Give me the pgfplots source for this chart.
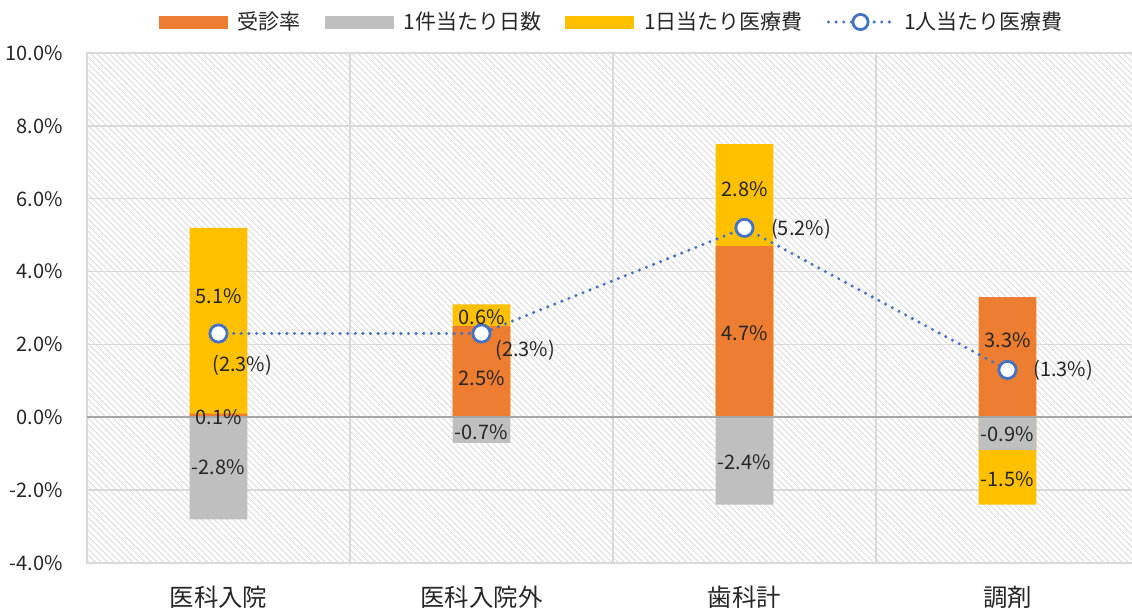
\documentclass[border=0pt]{standalone}
\usepackage{fontspec}
\setmainfont{Noto Sans CJK JP}
\usepackage{pgfplots}
\pgfplotsset{compat=1.18}
\usetikzlibrary{patterns.meta}
\definecolor{cOrange}{HTML}{ED7D31}
\definecolor{cGray}{HTML}{BFBFBF}
\definecolor{cYellow}{HTML}{FFC000}
\definecolor{cBlue}{HTML}{4472C4}
\definecolor{cGrid}{HTML}{D9D9D9}
\definecolor{cText}{HTML}{262626}
\begin{document}
\begin{tikzpicture}
\begin{axis}[
  at={(0,0)}, anchor=south west,
  scale only axis, width=526pt, height=255pt,
  xmin=-0.5, xmax=3.5, ymin=-4, ymax=10,
  /pgf/number format/assume math mode=true,
  axis line style={draw=cGrid, line width=0.75pt},
  xtick={0,1,2,3},
  xticklabels={医科入院,医科入院外,歯科計,調剤},
  minor xtick={0.5,1.5,2.5},
  xminorgrids=true,
  ytick={-4,-2,0,2,4,6,8,10},
  ymajorgrids=true,
  grid style={cGrid, line width=0.75pt},
  minor grid style={cGrid, line width=0.75pt},
  major tick length=0pt, minor tick length=0pt,
  tick style={draw=none},
  yticklabel={\pgfmathprintnumber[fixed,fixed zerofill,precision=1]{\tick}\%},
  yticklabel style={anchor=east, xshift=-8.5pt, font=\fontsize{10}{12}\selectfont, text=cText},
  xticklabel style={anchor=base, yshift=-22pt, font=\fontsize{12.2}{14}\selectfont, text=cText},
  axis background/.style={pattern={Lines[angle=-45,distance=2.2pt,line width=0.45pt]}, pattern color=black!14},
  legend style={at={(0.5,1)}, anchor=center, yshift=15.5pt, draw=none, fill=none,
    font=\fontsize{10.5}{12}\selectfont, text=cText, legend columns=4,
    /tikz/every odd column/.append style={column sep=3pt},
    /tikz/every even column/.append style={column sep=10pt}},
  legend cell align=left,
]
\addlegendimage{legend image code/.code={\fill[cOrange] (0pt,-3pt) rectangle (34pt,3pt);}}
\addlegendentry{受診率}
\addlegendimage{legend image code/.code={\fill[cGray] (0pt,-3pt) rectangle (34pt,3pt);}}
\addlegendentry{1件当たり日数}
\addlegendimage{legend image code/.code={\fill[cYellow] (0pt,-3pt) rectangle (34pt,3pt);}}
\addlegendentry{1日当たり医療費}
\addlegendimage{legend image code/.code={\draw[cBlue, line width=1.7pt, dash pattern=on 0pt off 3.8pt, line cap=round] (1pt,0pt) -- (33pt,0pt);
   \draw[cBlue, fill=white, line width=1.4pt] (17pt,0pt) circle (3.8pt);}}
\addlegendentry{1人当たり医療費}

% 1日当たり医療費 (drawn to the stack end), then 受診率 and 1件当たり日数 over it
\addplot[ybar, bar shift=0pt, bar width=0.22, fill=cYellow, draw=none, forget plot]
  coordinates {(0,5.2) (1,3.1) (2,7.5) (3,-2.4)};
\addplot[ybar, bar shift=0pt, bar width=0.22, fill=cOrange, draw=none, forget plot]
  coordinates {(0,0.1) (1,2.5) (2,4.7) (3,3.3)};
\addplot[ybar, bar shift=0pt, bar width=0.22, fill=cGray, draw=none, forget plot]
  coordinates {(0,-2.8) (1,-0.7) (2,-2.4) (3,-0.9)};

\draw[black!35, line width=0.9pt] (axis cs:-0.5,0) -- (axis cs:3.5,0);

% 1人当たり医療費
\addplot[cBlue, line width=1.7pt, dash pattern=on 0pt off 3.8pt, line cap=round,
  mark=*, mark size=4.3pt, mark options={solid, fill=white, draw=cBlue, line width=1.4pt}, forget plot]
  coordinates {(0,2.3) (1,2.3) (2,5.2) (3,1.3)};

% segment labels
\addplot[draw=none, mark=none, forget plot, point meta=explicit,
  nodes near coords={\pgfmathprintnumber[fixed,fixed zerofill,precision=1]{\pgfplotspointmeta}\%},
  nodes near coords align=center,
  every node near coord/.append style={anchor=center, font=\fontsize{10}{12}\selectfont, text=cText}]
  table[meta=v] {
x y v
0 3.32 5.1
0 0.0 0.1
0 -1.37 -2.8
1 2.75 0.6
1 1.07 2.5
1 -0.41 -0.7
2 6.25 2.8
2 2.31 4.7
2 -1.24 -2.4
3 2.12 3.3
3 -0.47 -0.9
3 -1.70 -1.5
};
% line labels
\addplot[draw=none, mark=none, forget plot, point meta=explicit,
  nodes near coords={(\pgfmathprintnumber[fixed,fixed zerofill,precision=1]{\pgfplotspointmeta}\%)},
  nodes near coords align=center,
  every node near coord/.append style={anchor=west, inner sep=0pt, font=\fontsize{10}{12}\selectfont, text=cText}]
  table[meta=v] {
x y v
-0.025 1.43 2.3
1.051 1.84 2.3
2.100 5.15 5.2
3.097 1.30 1.3
};
\end{axis}
\pgfresetboundingbox
\path[use as bounding box] (-43.5pt,-23.5pt) rectangle (522.5pt,281.5pt);
\end{tikzpicture}
\end{document}
